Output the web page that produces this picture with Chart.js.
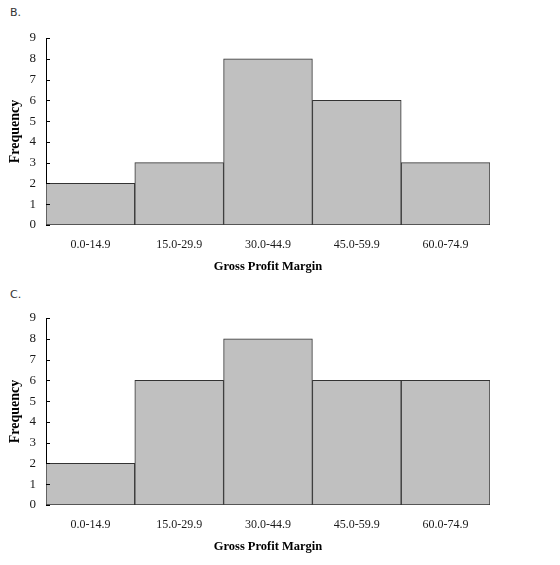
<!DOCTYPE html>
<html>
<head>
<meta charset="utf-8">
<script src="https://cdn.jsdelivr.net/npm/chart.js@4"></script>
<style>
  body { margin: 0; background: #fff; }
  .wrap { position: absolute; left: 0; width: 560px; height: 280px; }
  .tag { position: absolute; left: 10px; font: 11px "DejaVu Sans", sans-serif; color: #333; }
</style>
</head>
<body>
<div class="tag" style="top:6px">B.</div>
<div class="wrap" style="top:0"><canvas id="chartB"></canvas></div>
<div class="tag" style="top:288px">C.</div>
<div class="wrap" style="top:280px"><canvas id="chartC"></canvas></div>
<script>
const classes = ['0.0-14.9', '15.0-29.9', '30.0-44.9', '45.0-59.9', '60.0-74.9'];
const freqB = [2, 3, 8, 6, 3];
const freqC = [2, 6, 8, 6, 6];
const yTicks = [0, 1, 2, 3, 4, 5, 6, 7, 8, 9];

const serif = '"Liberation Serif", "Times New Roman", serif';

// small inward tick marks on the y axis
const innerTicks = {
  id: 'innerTicks',
  afterDraw(chart) {
    const ctx = chart.ctx;
    const y = chart.scales.y;
    ctx.save();
    ctx.strokeStyle = '#000';
    ctx.lineWidth = 1;
    yTicks.forEach(v => {
      const py = Math.round(y.getPixelForValue(v)) + 0.5;
      ctx.beginPath();
      ctx.moveTo(y.right, py);
      ctx.lineTo(y.right + 4, py);
      ctx.stroke();
    });
    ctx.restore();
  }
};

function makeChart(id, values) {
  return new Chart(document.getElementById(id), {
    type: 'bar',
    data: {
      labels: classes,
      datasets: [{
        data: values,
        backgroundColor: '#c0c0c0',
        borderColor: '#333',
        borderWidth: 1,
        borderSkipped: false,
        categoryPercentage: 1,
        barPercentage: 1
      }]
    },
    options: {
      responsive: true,
      maintainAspectRatio: false,
      animation: false,
      layout: { padding: { top: 38, right: 70, bottom: 0, left: 0 } },
      plugins: { legend: { display: false }, tooltip: { enabled: false } },
      scales: {
        x: {
          grid: { display: false, drawTicks: false },
          border: { display: false },
          ticks: { color: '#1a1a1a', padding: 13, font: { family: serif, size: 12 } },
          title: {
            display: true,
            text: 'Gross Profit Margin',
            color: '#000',
            padding: { top: 0, bottom: 6 },
            font: { family: serif, size: 12.5, weight: 'bold' }
          },
          afterFit: s => { s.height = 55; }
        },
        y: {
          min: 0,
          max: 9,
          grid: { display: false, drawTicks: false },
          border: { display: true, color: '#000', width: 1 },
          ticks: { stepSize: 1, color: '#1a1a1a', padding: 10, font: { family: serif, size: 13 } },
          title: {
            display: true,
            text: 'Frequency',
            color: '#000',
            padding: { top: 7, bottom: 0 },
            font: { family: serif, size: 14, weight: 'bold' }
          },
          afterFit: s => { s.width = 46; }
        }
      }
    },
    plugins: [innerTicks]
  });
}

makeChart('chartB', freqB);
makeChart('chartC', freqC);
</script>
</body>
</html>
